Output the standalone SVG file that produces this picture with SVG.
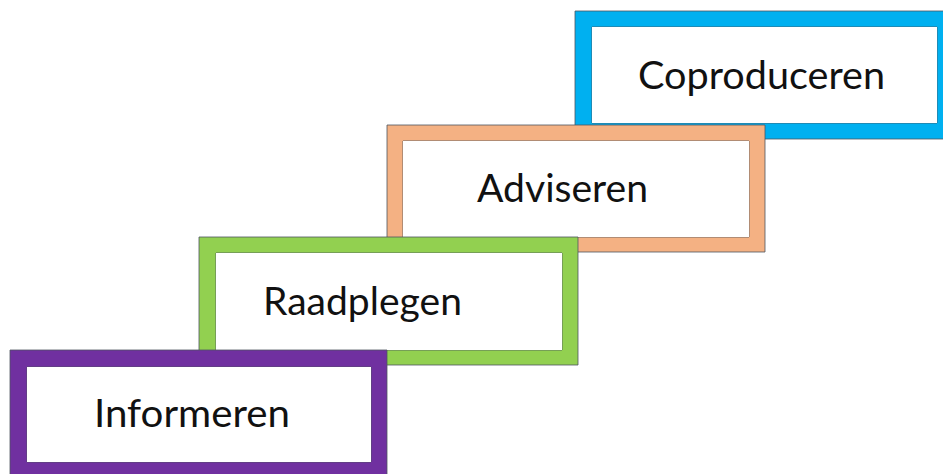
<svg xmlns="http://www.w3.org/2000/svg" width="943" height="474" viewBox="0 0 943 474">
<style>
.frame{fill-rule:evenodd;stroke:#4d5560;stroke-width:1;stroke-opacity:0.8}
.lbl{font-family:"Lato","Liberation Sans",sans-serif;font-size:38px;fill:#111}
</style>
<rect width="943" height="474" fill="#fff"/>
<g id="coproduceren">
<path class="frame" fill="#00B0F0" d="M575,11H952V139H575Z M592,27V123H937V27Z"/>
<rect x="592" y="27" width="345" height="96" fill="#fff"/>
<text class="lbl" x="638" y="89" textLength="247" lengthAdjust="spacingAndGlyphs">Coproduceren</text>
</g>
<g id="adviseren">
<path class="frame" fill="#F4B183" d="M387,125H765V252H387Z M403,141V237H749V141Z"/>
<rect x="403" y="141" width="346" height="96" fill="#fff"/>
<text class="lbl" x="477" y="202" textLength="171" lengthAdjust="spacingAndGlyphs">Adviseren</text>
</g>
<g id="raadplegen">
<path class="frame" fill="#92D050" d="M199,237H578V365H199Z M216,253V350H562V253Z"/>
<rect x="216" y="253" width="346" height="97" fill="#fff"/>
<text class="lbl" x="263" y="315" textLength="199" lengthAdjust="spacingAndGlyphs">Raadplegen</text>
</g>
<g id="informeren">
<path class="frame" fill="#7030A0" d="M10,350H387V478H10Z M27,367V462H371V367Z"/>
<rect x="27" y="367" width="344" height="95" fill="#fff"/>
<text class="lbl" x="94" y="427" textLength="196" lengthAdjust="spacingAndGlyphs">Informeren</text>
</g>
<g id="connectors"/>
</svg>
